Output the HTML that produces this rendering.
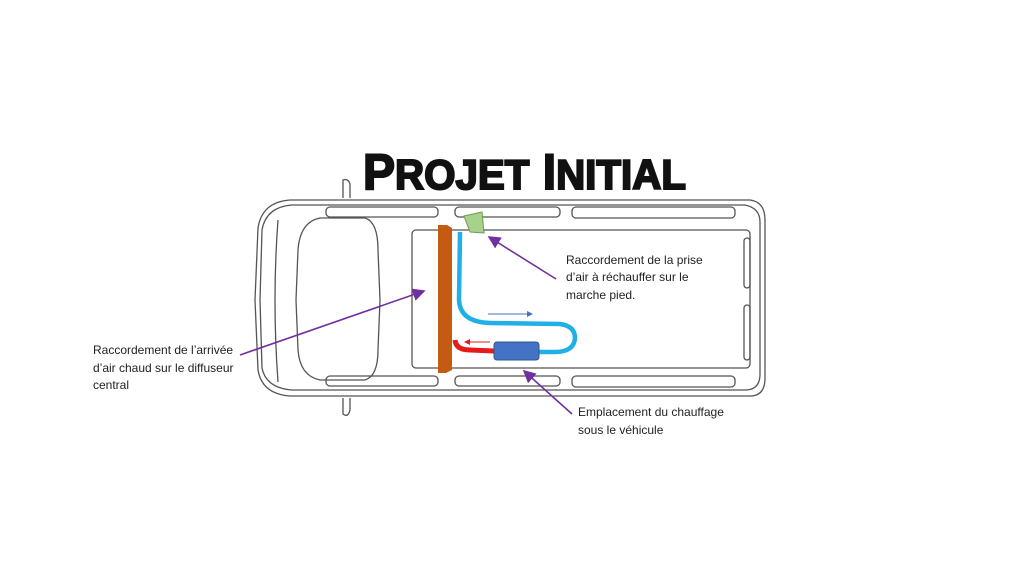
<!DOCTYPE html>
<html><head><meta charset="utf-8"><style>
body{margin:0;background:#fff;width:1024px;height:576px;overflow:hidden}
svg{display:block}
text{font-family:"Liberation Sans",sans-serif}
</style></head><body>
<svg width="1024" height="576" viewBox="0 0 1024 576">
<defs><marker id="pa" markerWidth="8" markerHeight="8" refX="7" refY="4" orient="auto"><path d="M0,0 L8,4 L0,8 z" fill="#7030a0"/></marker></defs>
<!-- title -->
<text x="363" y="189" font-size="50" font-weight="900" fill="#111" stroke="#111" stroke-width="2" transform="translate(363,0) scale(0.96,1) translate(-363,0)" font-family="Liberation Sans Narrow, Liberation Sans, sans-serif">P<tspan font-size="42">ROJET</tspan> I<tspan font-size="42">NITIAL</tspan></text>
<!-- van -->
<g fill="none" stroke="#555" stroke-width="1.3">
<path d="M290,200 L750,200 Q765,202 765,220 L765,378 Q765,396 750,396 L290,396 Q262,394 258,370 L255,300 L258,228 Q262,202 290,200 Z"/>
<path d="M292,205 L745,205 Q760,208 760,222 L760,374 Q760,390 745,390 L292,390 Q266,388 262,368 L260,300 L262,230 Q266,207 292,205 Z"/>
<path d="M320,218 L365,218 Q378,222 378,250 L380,300 L378,350 Q378,376 365,380 L320,380 Q300,376 298,350 L296,300 L298,250 Q300,222 320,218 Z"/>
<path d="M278,220 Q272,300 278,382"/>
<rect x="412" y="230" width="338" height="138" rx="4"/>
<rect x="326" y="207" width="112" height="10" rx="4"/>
<rect x="455" y="207" width="105" height="10" rx="4"/>
<rect x="572" y="207" width="163" height="11" rx="4"/>
<rect x="326" y="376" width="112" height="10" rx="4"/>
<rect x="455" y="376" width="105" height="10" rx="4"/>
<rect x="572" y="376" width="163" height="11" rx="4"/>
<rect x="744" y="238" width="6" height="50" rx="3"/>
<rect x="744" y="305" width="6" height="55" rx="3"/>
<path d="M343,198 L343,180 Q348,178 350,184 L350,198"/>
<path d="M343,398 L343,414 Q348,418 350,410 L350,398"/>
</g>
<!-- components -->
<path d="M460,232 L459,300 Q460,322 490,323 L560,324 Q575,326 575,338 Q574,352 555,352 L530,352" fill="none" stroke="#1fb0e6" stroke-width="4.5"/>
<path d="M455,340 Q456,350 470,350 L494,351" fill="none" stroke="#e41b1b" stroke-width="5"/>
<rect x="494" y="342" width="45" height="18" rx="3" fill="#4472c4" stroke="#2f5597"/>
<path d="M464,216 L482,212 L484,233 L470,232 Z" fill="#a9d18e" stroke="#6f9a50"/>
<path d="M438,225 L447,225 L452,228 L452,370 L446,373 L438,373 Z" fill="#c55a11"/>
<line x1="488" y1="314" x2="527" y2="314" stroke="#4472c4" stroke-width="1"/><path d="M527,311 L533,314 L527,317Z" fill="#4472c4"/>
<line x1="470" y1="342" x2="490" y2="342" stroke="#e41b1b" stroke-width="1"/><path d="M470,339 L464,342 L470,345Z" fill="#e41b1b"/>
<!-- callouts -->
<g stroke="#7030a0" stroke-width="1.6">
<line x1="556" y1="279" x2="489" y2="237" marker-end="url(#pa)"/>
<line x1="240" y1="355" x2="424" y2="291" marker-end="url(#pa)"/>
<line x1="572" y1="414" x2="524" y2="371" marker-end="url(#pa)"/>
</g>
<g font-size="12" fill="#222">
<text x="566" y="264">Raccordement de la prise</text>
<text x="566" y="281">d’air à réchauffer sur le</text>
<text x="566" y="299">marche pied.</text>
<text x="93" y="354">Raccordement de l’arrivée</text>
<text x="93" y="372">d’air chaud sur le diffuseur</text>
<text x="93" y="389">central</text>
<text x="578" y="416">Emplacement du chauffage</text>
<text x="578" y="434">sous le véhicule</text>
</g>
</svg>
</body></html>
